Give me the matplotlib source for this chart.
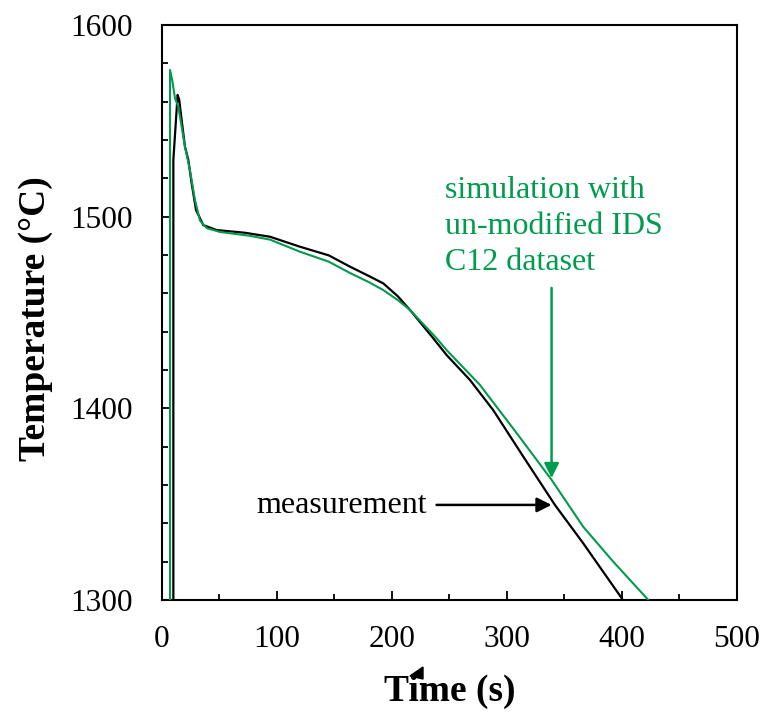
import matplotlib
matplotlib.use("Agg")
import matplotlib.pyplot as plt
from matplotlib.ticker import MultipleLocator
from matplotlib.patches import Polygon

plt.rcParams['font.family'] = ['Liberation Serif', 'DejaVu Serif']

# measured cooling curve
meas_t = [9.9, 9.9, 13.6, 15.0, 17.1, 20.0, 22.9, 25.8, 29.6, 35.9, 47.5, 72, 94,
          120, 145, 163.5, 180, 192.4, 205, 215.7, 235.7, 247.5, 267.8, 288, 314.2,
          341.7, 366.3, 399.7, 405]
meas_T = [1250, 1529.6, 1563.5, 1561, 1550.4, 1536.5, 1529.6, 1517.4, 1503.5, 1495.6,
          1493, 1491.6, 1489.5, 1484.3, 1479.8, 1473.9, 1469, 1465.2, 1458.5, 1451.3,
          1436.7, 1427.8, 1414.8, 1399.1, 1374.8, 1349.6, 1329.6, 1301, 1296]

# simulated curve (un-modified IDS C12 dataset)
sim_t = [7.0, 7.0, 9.0, 11.3, 14.2, 17.1, 20.0, 24.3, 28.7, 33.0, 38.9, 50.4, 76.5,
         94, 120, 145, 163.5, 180, 192.4, 205, 215.7, 238.9, 247.5, 276.5, 308.4,
         338.9, 366.3, 392.4, 422.9, 428]
sim_T = [1250, 1576.5, 1571, 1561.8, 1557.4, 1547, 1536.5, 1524.3, 1508.7, 1498, 1494,
         1492, 1490, 1488, 1481.7, 1476.5, 1470.6, 1465.8, 1461.7, 1456.5, 1451.3,
         1436.5, 1430.4, 1412.2, 1387.1, 1362.6, 1338.2, 1320, 1300, 1296]

green = '#009B4E'

fig = plt.figure(figsize=(7.64, 7.13), dpi=100)
ax = fig.add_axes([0.2120, 0.1585, 0.7526, 0.8065])

ax.plot(meas_t, meas_T, color='black', lw=1.6, zorder=3)
ax.plot(sim_t, sim_T, color=green, lw=1.5, zorder=4)

ax.set_xlim(0, 500)
ax.set_ylim(1300, 1600)
ax.xaxis.set_major_locator(MultipleLocator(100))
ax.xaxis.set_minor_locator(MultipleLocator(50))
ax.yaxis.set_major_locator(MultipleLocator(100))
ax.yaxis.set_minor_locator(MultipleLocator(20))
ax.tick_params(which='both', direction='in', top=False, right=False, width=1.3,
               labelsize=22.5)
ax.tick_params(which='major', length=6.5)
ax.tick_params(which='minor', length=4.5)
ax.tick_params(axis='x', which='major', pad=18)
ax.tick_params(axis='y', which='major', pad=21)
for s in ax.spines.values():
    s.set_linewidth(1.5)

ax.set_xlabel('Time (s)', fontsize=27, fontweight='bold', labelpad=14)
ax.set_ylabel('Temperature (°C)', fontsize=27, fontweight='bold')
ax.yaxis.set_label_coords(-0.19, 0.49)

# labels with arrows
ax.text(82.3, 1345.4, 'measurement', fontsize=23, color='black', va='baseline')
ax.annotate('', xy=(338.8, 1349.6), xytext=(238.8, 1349.6),
            arrowprops=dict(arrowstyle='-|>', color='black', lw=1.8,
                            mutation_scale=22, shrinkA=0, shrinkB=0))

sim_lines = ['simulation with', 'un-modified IDS', 'C12 dataset']
for i, line in enumerate(sim_lines):
    ax.text(246, 1509.7 - 18.8 * i, line, fontsize=23, color=green, va='baseline')
ax.annotate('', xy=(338.8, 1363.6), xytext=(338.8, 1462.8),
            arrowprops=dict(arrowstyle='-|>', color=green, lw=1.8,
                            mutation_scale=22, shrinkA=0, shrinkB=0))

# stray arrowhead below the axis
W, H = 764, 713
tri = Polygon([(410 / W, 1 - 676 / H), (423 / W, 1 - 667 / H), (423 / W, 1 - 679 / H)],
              closed=True, color='black', transform=fig.transFigure)
fig.patches.append(tri)

fig.savefig('out.png', dpi=100)
